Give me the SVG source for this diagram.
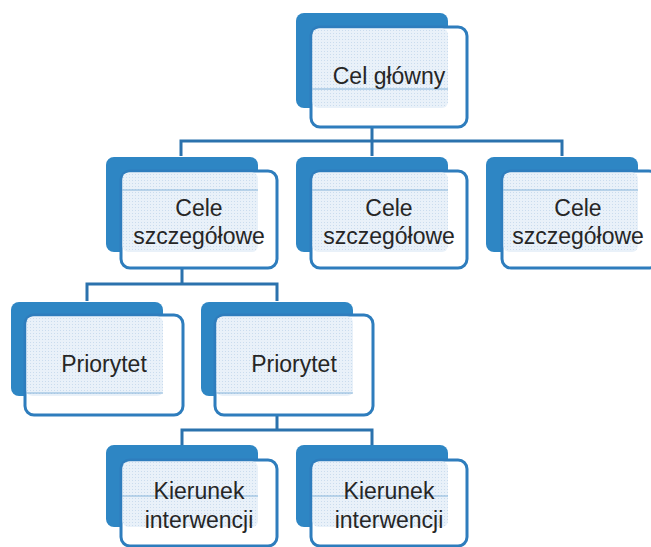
<svg xmlns="http://www.w3.org/2000/svg" width="651" height="547" viewBox="0 0 651 547">
  <defs>
    <pattern id="hatch" width="3" height="3" patternUnits="userSpaceOnUse">
      <rect width="3" height="3" fill="#e9f1f9"/>
      <rect width="1" height="1" fill="#cadcee"/>
    </pattern>
  </defs>
  <style>
    .back { fill: #2e86c4; }
    .front { fill: #ffffff; stroke: #2e7dbd; stroke-width: 3; }
    .hatch { fill: url(#hatch); }
    .rule { stroke: #86b4da; stroke-width: 1; }
    .conn { fill: none; stroke: #2b72ad; stroke-width: 3; }
    .lbl { font-family: "Liberation Sans", Arial, sans-serif; font-size: 23px; fill: #262626; text-anchor: middle; }
  </style>
  <rect width="651" height="547" fill="#ffffff"/>

  <g id="connectors">
    <path class="conn" d="M372,127 V141 M181,156 V141 H562 V156 M372,141 V156"/>
    <path class="conn" d="M182,268 V284 M87,301 V284 H277 V301"/>
    <path class="conn" d="M277,415 V430 M182,445 V430 H372 V445"/>
  </g>

  <g id="n-cel-glowny">
    <rect class="back" x="296" y="13" width="152" height="95" rx="8"/>
    <rect class="front" x="311" y="27" width="156" height="100" rx="9"/>
    <rect class="hatch" x="312.5" y="28.5" width="135.5" height="79.5" rx="6"/>
    <line class="rule" x1="312" y1="89" x2="448" y2="89"/>
    <text class="lbl" x="389" y="84">Cel główny</text>
  </g>

  <g id="n-cele-1">
    <rect class="back" x="106" y="157" width="152" height="95" rx="8"/>
    <rect class="front" x="121" y="171" width="156" height="97" rx="9"/>
    <rect class="hatch" x="122.5" y="172.5" width="135.5" height="79.5" rx="6"/>
    <line class="rule" x1="122" y1="190" x2="258" y2="190"/>
    <text class="lbl" x="199" y="216">Cele</text>
    <text class="lbl" x="199" y="244">szczegółowe</text>
  </g>

  <g id="n-cele-2">
    <rect class="back" x="296" y="157" width="152" height="95" rx="8"/>
    <rect class="front" x="311" y="171" width="156" height="97" rx="9"/>
    <rect class="hatch" x="312.5" y="172.5" width="135.5" height="79.5" rx="6"/>
    <line class="rule" x1="312" y1="190" x2="448" y2="190"/>
    <text class="lbl" x="389" y="216">Cele</text>
    <text class="lbl" x="389" y="244">szczegółowe</text>
  </g>

  <g id="n-cele-3">
    <rect class="back" x="486" y="157" width="152" height="95" rx="8"/>
    <rect class="front" x="502" y="171" width="156" height="97" rx="9"/>
    <rect class="hatch" x="503.5" y="172.5" width="134.5" height="79.5" rx="6"/>
    <line class="rule" x1="503" y1="190" x2="638" y2="190"/>
    <text class="lbl" x="578" y="216">Cele</text>
    <text class="lbl" x="578" y="244">szczegółowe</text>
  </g>

  <g id="n-priorytet-1">
    <rect class="back" x="11" y="302" width="152" height="94" rx="8"/>
    <rect class="front" x="25" y="315" width="158" height="100" rx="9"/>
    <rect class="hatch" x="26.5" y="316.5" width="136.5" height="79.5" rx="6"/>
    <line class="rule" x1="26" y1="393" x2="163" y2="393"/>
    <text class="lbl" x="104" y="372">Priorytet</text>
  </g>

  <g id="n-priorytet-2">
    <rect class="back" x="201" y="302" width="152" height="94" rx="8"/>
    <rect class="front" x="215" y="315" width="158" height="100" rx="9"/>
    <rect class="hatch" x="216.5" y="316.5" width="136.5" height="79.5" rx="6"/>
    <line class="rule" x1="216" y1="393" x2="353" y2="393"/>
    <text class="lbl" x="294" y="372">Priorytet</text>
  </g>

  <g id="n-kierunek-1">
    <rect class="back" x="106" y="445" width="152" height="82" rx="8"/>
    <rect class="front" x="121" y="460" width="156" height="86" rx="9"/>
    <rect class="hatch" x="122.5" y="461.5" width="135.5" height="65.5" rx="6"/>
    <line class="rule" x1="122" y1="496" x2="258" y2="496"/>
    <text class="lbl" x="199" y="499">Kierunek</text>
    <text class="lbl" x="199" y="528">interwencji</text>
  </g>

  <g id="n-kierunek-2">
    <rect class="back" x="296" y="445" width="152" height="82" rx="8"/>
    <rect class="front" x="311" y="460" width="156" height="86" rx="9"/>
    <rect class="hatch" x="312.5" y="461.5" width="135.5" height="65.5" rx="6"/>
    <line class="rule" x1="312" y1="496" x2="448" y2="496"/>
    <text class="lbl" x="389" y="499">Kierunek</text>
    <text class="lbl" x="389" y="528">interwencji</text>
  </g>
</svg>
